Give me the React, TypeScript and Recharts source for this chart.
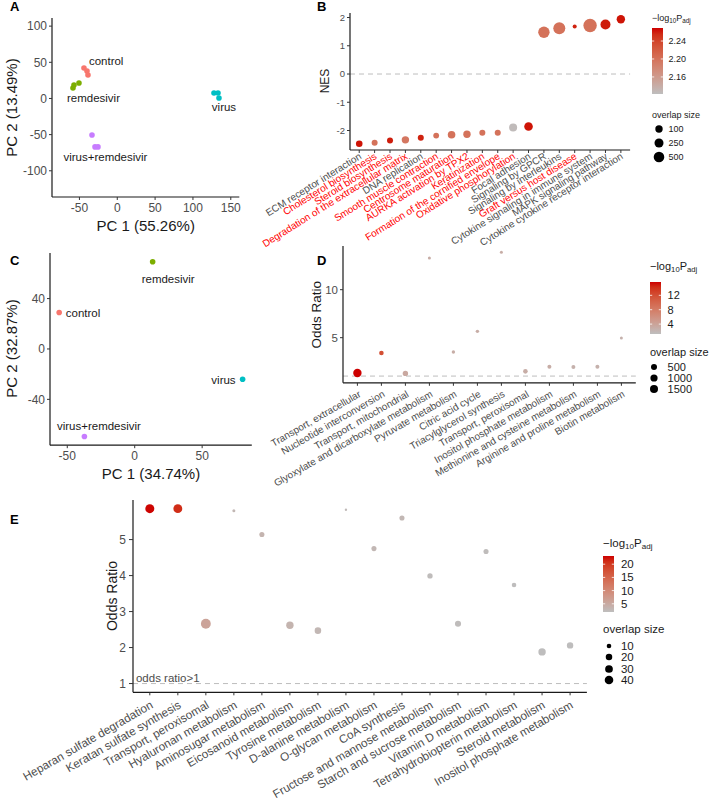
import React from "react";
import { ScatterChart, Scatter, XAxis, YAxis, ZAxis, ReferenceLine } from "recharts";

const FONT = '"Liberation Sans", Arial, sans-serif';
const INK = "#1a1a1a";
const TICK = "#4D4D4D";
const RED_LABEL = "#FF0000";

// ---------- A: PCA of all samples
const pcaAControl = [{ x: -44, y: 42.1 }, { x: -40, y: 37.9 }, { x: -38.7, y: 32.4 }];
const pcaARemdesivir = [{ x: -58.5, y: 14.5 }, { x: -57.2, y: 18.6 }, { x: -50.6, y: 21.4 }];
const pcaAVirus = [{ x: 127.8, y: 7.5 }, { x: 133.1, y: 7.5 }, { x: 134.4, y: 0.6 }];
const pcaAVirusRem = [{ x: -33.4, y: -50.5 }, { x: -29.4, y: -67 }, { x: -25.5, y: -67 }];
const pcaALabels = [
  { x: -37.4, y: 51.8, text: "control" },
  { x: -66.4, y: 1.0, text: "remdesivir" },
  { x: 141, y: -12.2, text: "virus" },
  { x: -15.6, y: -81, text: "virus+remdesivir" },
];

// ---------- C: PCA of group means
const pcaCControl = [{ x: -56, y: 29 }];
const pcaCRemdesivir = [{ x: 13.3, y: 69.3 }];
const pcaCVirus = [{ x: 80, y: -24 }];
const pcaCVirusRem = [{ x: -37.3, y: -69.5 }];
const pcaCLabels = [
  { x: -51.1, y: 28.5, text: "control" },
  { x: 24.8, y: 55.8, text: "remdesivir" },
  { x: 74.8, y: -24.6, text: "virus" },
  { x: -26.5, y: -61.5, text: "virus+remdesivir" },
];

// ---------- B: GSEA
const gseaPathways = [
  "ECM receptor interaction",
  "Cholesterol biosynthesis",
  "Steroid biosynthesis",
  "Degradation of the extracellular matrix",
  "DNA replication",
  "Smooth muscle contraction",
  "Centrosome maturation",
  "AURKA activation by TPX2",
  "Keratinization",
  "Formation of the cornified envelope",
  "Oxidative phosphorylation",
  "Focal adhesion",
  "Signaling by GPCR",
  "Signaling by interleukins",
  "Graft versus host disease",
  "Cytokine signaling in immune system",
  "MAPK signaling pathway",
  "Cytokine cytokine receptor interaction",
];
const gseaHighlighted = [false, true, true, true, false, true, true, true, true, true, true, false, false, false, true, false, false, false];
const gseaNES = [-2.47, -2.43, -2.35, -2.33, -2.26, -2.18, -2.15, -2.13, -2.08, -2.08, -1.89, -1.86, 1.48, 1.62, 1.68, 1.72, 1.75, 1.94];
const gseaLogP = [2.265, 2.2, 2.262, 2.195, 2.26, 2.2, 2.2, 2.2, 2.2, 2.2, 2.125, 2.265, 2.2, 2.2, 2.26, 2.2, 2.262, 2.265];
const gseaOverlap = [57, 36, 36, 100, 36, 30, 114, 100, 36, 36, 144, 200, 688, 857, 3, 1363, 390, 180];

// ---------- D: metabolic enrichment (group means)
const dPathways = [
  "Transport, extracellular",
  "Nucleotide interconversion",
  "Transport, mitochondrial",
  "Glyoxylate and dicarboxylate metabolism",
  "Pyruvate metabolism",
  "Citric acid cycle",
  "Triacylglycerol synthesis",
  "Transport, peroxisomal",
  "Inositol phosphate metabolism",
  "Methionine and cysteine metabolism",
  "Arginine and proline metabolism",
  "Biotin metabolism",
];
const dOdds = [1.32, 3.4, 1.28, 13.3, 3.51, 5.66, 13.9, 1.49, 1.98, 1.95, 1.98, 4.97];
const dLogP = [15.7, 12, 3.5, 3, 3, 3, 3, 3, 3, 2.6, 2.6, 2.6];
const dOverlap = [1800, 188, 340, 45, 66, 66, 45, 188, 115, 115, 115, 45];

// ---------- E: metabolic enrichment
const ePathways = [
  "Heparan sulfate degradation",
  "Keratan sulfate synthesis",
  "Transport, peroxisomal",
  "Hyaluronan metabolism",
  "Aminosugar metabolism",
  "Eicosanoid metabolism",
  "Tyrosine metabolism",
  "D-alanine metabolism",
  "O-glycan metabolism",
  "CoA synthesis",
  "Fructose and mannose metabolism",
  "Starch and sucrose metabolism",
  "Vitamin D metabolism",
  "Tetrahydrobiopterin metabolism",
  "Steroid metabolism",
  "Inositol phosphate metabolism",
];
const eOdds = [5.86, 5.86, 2.66, 5.8, 5.14, 2.62, 2.47, 5.83, 4.75, 5.6, 3.99, 2.66, 4.67, 3.74, 1.88, 2.06];
const eLogP = [23, 21, 6, 3, 3.5, 3.5, 3, 2.5, 3, 3, 2.2, 2.2, 2.2, 2, 2, 2];
const eOverlap = [46, 44, 60, 6, 12, 27, 20, 5, 12, 12, 13, 17, 12, 10, 27, 19];

// ---------- colour scale (grey -> red3, interpolated in Lab like ggplot)
type Trip = [number, number, number];
const toLin = (c: number) => {
  const s = c / 255;
  return s <= 0.04045 ? s / 12.92 : Math.pow((s + 0.055) / 1.055, 2.4);
};
const toSrgb = (c: number) => {
  const v = c <= 0.0031308 ? 12.92 * c : 1.055 * Math.pow(c, 1 / 2.4) - 0.055;
  return Math.round(Math.min(1, Math.max(0, v)) * 255);
};
function rgbToLab([r, g, b]: Trip): Trip {
  const R = toLin(r), G = toLin(g), B = toLin(b);
  const x = (0.4124 * R + 0.3576 * G + 0.1805 * B) / 0.95047;
  const y = 0.2126 * R + 0.7152 * G + 0.0722 * B;
  const z = (0.0193 * R + 0.1192 * G + 0.9505 * B) / 1.08883;
  const f = (t: number) => (t > 0.008856 ? Math.cbrt(t) : 7.787 * t + 16 / 116);
  const fx = f(x), fy = f(y), fz = f(z);
  return [116 * fy - 16, 500 * (fx - fy), 200 * (fy - fz)];
}
function labToRgb([L, a, b]: Trip): string {
  const fy = (L + 16) / 116, fx = fy + a / 500, fz = fy - b / 200;
  const inv = (t: number) => (t * t * t > 0.008856 ? t * t * t : (t - 16 / 116) / 7.787);
  const x = inv(fx) * 0.95047, y = inv(fy), z = inv(fz) * 1.08883;
  const R = 3.2406 * x - 1.5372 * y - 0.4986 * z;
  const G = -0.9689 * x + 1.8758 * y + 0.0415 * z;
  const B = 0.0557 * x - 0.204 * y + 1.057 * z;
  return `rgb(${toSrgb(R)},${toSrgb(G)},${toSrgb(B)})`;
}
const LOW = rgbToLab([190, 190, 190]);
const HIGH = rgbToLab([205, 0, 0]);
const heat = (t: number) => {
  const c = Math.min(1, Math.max(0, t));
  return labToRgb([0, 1, 2].map((k) => LOW[k] + (HIGH[k] - LOW[k]) * c) as Trip);
};

// size scales (area, sqrt) shared by ZAxis and legends
const zB = { domain: [1, 1600], range: [10.24, 152.2] };
const zD = { domain: [25, 2500], range: [4.85, 65.6] };
const zE = { domain: [4, 60], range: [1.3, 76.6] };
const zRadius = (v: number, z: { domain: number[]; range: number[] }) => {
  const s0 = Math.sqrt(z.domain[0]), s1 = Math.sqrt(z.domain[1]);
  const area = z.range[0] + ((Math.sqrt(v) - s0) / (s1 - s0)) * (z.range[1] - z.range[0]);
  return Math.sqrt(Math.max(area, 0) / Math.PI);
};

const colB = { lo: 2.122, hi: 2.269 };
const colD = { lo: 1.25, hi: 15.7 };
const colE = { lo: 1.9, hi: 23.1 };

const gseaData = gseaPathways.map((_, i) => ({
  x: i + 1, y: gseaNES[i], size: gseaOverlap[i],
  fill: heat((gseaLogP[i] - colB.lo) / (colB.hi - colB.lo)),
}));
const dData = dPathways.map((_, i) => ({
  x: i + 1, y: dOdds[i], size: dOverlap[i],
  fill: heat((dLogP[i] - colD.lo) / (colD.hi - colD.lo)),
}));
const eData = ePathways.map((_, i) => ({
  x: i + 1, y: eOdds[i], size: eOverlap[i],
  fill: heat((eLogP[i] - colE.lo) / (colE.hi - colE.lo)),
}));

// ---------- layout
type Box = { x0: number; y0: number; x1: number; y1: number };
const boxA: Box = { x0: 52, y0: 18, x1: 239.3, y1: 197 };
const boxB: Box = { x0: 349.8, y0: 12.5, x1: 629.9, y1: 149.5 };
const boxC: Box = { x0: 50.2, y0: 252.8, x1: 252, y1: 445 };
const boxD: Box = { x0: 342.6, y0: 246.3, x1: 635.4, y1: 383.1 };
const boxE: Box = { x0: 132.9, y0: 499.7, x1: 586.8, y1: 692 };

const PCA_COLORS = ["#F8766D", "#7CAE00", "#00BFC4", "#C77CFF"];
const anchorA: Record<string, string> = { control: "start", remdesivir: "start", virus: "middle", "virus+remdesivir": "middle" };
const anchorC: Record<string, string> = { control: "start", remdesivir: "middle", virus: "end", "virus+remdesivir": "middle" };

const axisLine = { stroke: INK, strokeWidth: 1.2 };
const tickLine = { stroke: "#333333" };

const dot = (fill: string) => (p: any) => <circle cx={p.cx} cy={p.cy} r={2.8} fill={fill} />;
const sizedDot = (p: any) => <circle cx={p.cx} cy={p.cy} r={p.width / 2} fill={p.payload.fill} />;
const textShape = (anchors: Record<string, string>) => (p: any) => (
  <text x={p.cx} y={p.cy} textAnchor={anchors[p.payload.text]} dominantBaseline="central" fontSize={11.5} fill={INK}>
    {p.payload.text}
  </text>
);

function angledTick(labels: string[], o: { angle: number; size: number; dx: number; dy: number; colors?: string[] }) {
  return (p: any) => {
    const i = Math.round(p.payload.value) - 1;
    return (
      <text
        transform={`translate(${p.x + o.dx},${p.y + o.dy}) rotate(${-o.angle})`}
        textAnchor="end"
        dy="0.71em"
        fontSize={o.size}
        fill={o.colors ? o.colors[i] : TICK}
      >
        {labels[i]}
      </text>
    );
  };
}

function Frame({ box, yw, xh, children }: { box: Box; yw: number; xh: number; children: React.ReactNode }) {
  const w = box.x1 - box.x0 + yw;
  const h = box.y1 - box.y0 + xh;
  return (
    <div style={{ position: "absolute", left: box.x0 - yw, top: box.y0, width: w, height: h }}>
      <ScatterChart width={w} height={h} margin={{ top: 0, right: 0, bottom: 0, left: 0 }}>
        {children}
      </ScatterChart>
    </div>
  );
}

function PcaPanel({ box, xDomain, yDomain, xTicks, yTicks, groups, labels, anchors }: any) {
  return (
    <Frame box={box} yw={40} xh={22}>
      <XAxis type="number" dataKey="x" domain={xDomain} ticks={xTicks} interval={0} tickSize={3} tickMargin={3}
        axisLine={axisLine} tickLine={tickLine} tick={{ fill: TICK, fontSize: 12 }} height={22} />
      <YAxis type="number" dataKey="y" domain={yDomain} ticks={yTicks} interval={0} tickSize={3} tickMargin={2}
        axisLine={axisLine} tickLine={tickLine} tick={{ fill: TICK, fontSize: 12 }} width={40} />
      {groups.map((g: any[], i: number) => (
        <Scatter key={i} data={g} shape={dot(PCA_COLORS[i])} isAnimationActive={false} />
      ))}
      <Scatter data={labels} shape={textShape(anchors)} isAnimationActive={false} />
    </Frame>
  );
}

function ColourLegend({ id, x, titleY, barTop, barBottom, lo, hi, breaks, fmt, fs, sizeTitleY, circleX, sizes, sizeYs, z }: any) {
  const stops = Array.from({ length: 11 }, (_, k) => k / 10);
  const yOf = (v: number) => barBottom - ((v - lo) / (hi - lo)) * (barBottom - barTop);
  const sub = fs * 0.7;
  return (
    <g fontSize={fs} fill={INK}>
      <defs>
        <linearGradient id={id} x1="0" y1="1" x2="0" y2="0">
          {stops.map((t) => (
            <stop key={t} offset={t} stopColor={heat(t)} />
          ))}
        </linearGradient>
      </defs>
      <text x={x} y={titleY} dominantBaseline="central">
        <tspan>−log</tspan>
        <tspan fontSize={sub} dy={fs * 0.3}>10</tspan>
        <tspan dy={-fs * 0.3}>P</tspan>
        <tspan fontSize={sub} dy={fs * 0.3}>adj</tspan>
      </text>
      <rect x={x} y={barTop} width={11} height={barBottom - barTop} fill={`url(#${id})`} />
      {breaks.map((b: number) => (
        <g key={b}>
          <line x1={x} x2={x + 2.2} y1={yOf(b)} y2={yOf(b)} stroke="#ffffff" strokeWidth={0.8} />
          <line x1={x + 8.8} x2={x + 11} y1={yOf(b)} y2={yOf(b)} stroke="#ffffff" strokeWidth={0.8} />
          <text x={x + 11 + fs * 0.6} y={yOf(b)} dominantBaseline="central">{fmt(b)}</text>
        </g>
      ))}
      <text x={x} y={sizeTitleY} dominantBaseline="central">overlap size</text>
      {sizes.map((s: number, k: number) => (
        <g key={s}>
          <circle cx={circleX} cy={sizeYs[k]} r={zRadius(s, z)} fill="#000000" />
          <text x={x + 11 + fs * 0.6} y={sizeYs[k]} dominantBaseline="central">{s}</text>
        </g>
      ))}
    </g>
  );
}

export default function App() {
  const idx = (arr: string[]) => arr.map((_, i) => i + 1);
  return (
    <div style={{ position: "absolute", left: 0, top: 0, width: 712, height: 801, background: "#ffffff", fontFamily: FONT, overflow: "hidden" }}>
      <style>{`.recharts-surface{overflow:visible}.recharts-wrapper{overflow:visible}`}</style>

      <PcaPanel box={boxA} xDomain={[-86.25, 161.25]} yDomain={[-136.25, 111.25]} xTicks={[-50, 0, 50, 100, 150]}
        yTicks={[-100, -50, 0, 50, 100]} groups={[pcaAControl, pcaARemdesivir, pcaAVirus, pcaAVirusRem]} labels={pcaALabels} anchors={anchorA} />

      <PcaPanel box={boxC} xDomain={[-62.8, 86.8]} yDomain={[-76.4, 76.2]} xTicks={[-50, 0, 50]}
        yTicks={[-40, 0, 40]} groups={[pcaCControl, pcaCRemdesivir, pcaCVirus, pcaCVirusRem]} labels={pcaCLabels} anchors={anchorC} />

      <Frame box={boxB} yw={30} xh={110}>
        <XAxis type="number" dataKey="x" domain={[0.4, 18.6]} ticks={idx(gseaPathways)} interval={0} tickSize={3} tickMargin={0}
          axisLine={axisLine} tickLine={tickLine} height={110}
          tick={angledTick(gseaPathways, { angle: 32, size: 10, dx: -0.9, dy: -1, colors: gseaHighlighted.map((h) => (h ? RED_LABEL : TICK)) })} />
        <YAxis type="number" dataKey="y" domain={[-2.69, 2.16]} ticks={[-2, -1, 0, 1, 2]} interval={0} tickSize={3} tickMargin={2}
          axisLine={axisLine} tickLine={tickLine} tick={{ fill: TICK, fontSize: 9.5 }} width={30} />
        <ZAxis type="number" dataKey="size" scale="sqrt" domain={zB.domain} range={zB.range} />
        <ReferenceLine y={0} stroke="#BDBDBD" strokeDasharray="5 4" strokeWidth={1} />
        <Scatter data={gseaData} shape={sizedDot} isAnimationActive={false} />
      </Frame>

      <Frame box={boxD} yw={30} xh={100}>
        <XAxis type="number" dataKey="x" domain={[0.4, 12.6]} ticks={idx(dPathways)} interval={0} tickSize={3} tickMargin={0}
          axisLine={axisLine} tickLine={tickLine} height={100}
          tick={angledTick(dPathways, { angle: 30, size: 10, dx: 0.6, dy: 4.1 })} />
        <YAxis type="number" dataKey="y" domain={[0.3, 14.55]} ticks={[5, 10]} interval={0} tickSize={3} tickMargin={2}
          axisLine={axisLine} tickLine={tickLine} tick={{ fill: TICK, fontSize: 11.5 }} width={30} />
        <ZAxis type="number" dataKey="size" scale="sqrt" domain={zD.domain} range={zD.range} />
        <ReferenceLine y={1} stroke="#BDBDBD" strokeDasharray="5 4" strokeWidth={1} />
        <Scatter data={dData} shape={sizedDot} isAnimationActive={false} />
      </Frame>

      <Frame box={boxE} yw={30} xh={100}>
        <XAxis type="number" dataKey="x" domain={[0.4, 16.6]} ticks={idx(ePathways)} interval={0} tickSize={3} tickMargin={0}
          axisLine={axisLine} tickLine={tickLine} height={100}
          tick={angledTick(ePathways, { angle: 30, size: 11.7, dx: -0.2, dy: 4.8 })} />
        <YAxis type="number" dataKey="y" domain={[0.757, 6.1]} ticks={[1, 2, 3, 4, 5]} interval={0} tickSize={4} tickMargin={3}
          axisLine={axisLine} tickLine={tickLine} tick={{ fill: TICK, fontSize: 12 }} width={30} />
        <ZAxis type="number" dataKey="size" scale="sqrt" domain={zE.domain} range={zE.range} />
        <ReferenceLine y={1} stroke="#BDBDBD" strokeDasharray="5 4" strokeWidth={1}
          label={(p: any) => (
            <text x={p.viewBox.x + 3} y={p.viewBox.y - 6} dominantBaseline="central" fontSize={11.5} fill={TICK}>odds ratio&gt;1</text>
          )} />
        <Scatter data={eData} shape={sizedDot} isAnimationActive={false} />
      </Frame>

      <svg width={712} height={801} style={{ position: "absolute", left: 0, top: 0, pointerEvents: "none", fontFamily: FONT }}>
        <g fontSize={13} fontWeight="bold" fill="#000000">
          <text x={10} y={11}>A</text>
          <text x={317} y={11}>B</text>
          <text x={10} y={265}>C</text>
          <text x={317} y={265}>D</text>
          <text x={10} y={524}>E</text>
        </g>
        <g fill={INK} textAnchor="middle" dominantBaseline="central">
          <text fontSize={15} transform="translate(11.5,107.5) rotate(-90)">PC 2 (13.49%)</text>
          <text fontSize={15} x={145.7} y={225}>PC 1 (55.26%)</text>
          <text fontSize={15} transform="translate(11.5,348.5) rotate(-90)">PC 2 (32.87%)</text>
          <text fontSize={15} x={151} y={473}>PC 1 (34.74%)</text>
          <text fontSize={12} transform="translate(325,81) rotate(-90)">NES</text>
          <text fontSize={13.5} transform="translate(316.7,314.7) rotate(-90)">Odds Ratio</text>
          <text fontSize={14} transform="translate(111.5,596) rotate(-90)">Odds Ratio</text>
        </g>
        <ColourLegend id="gB" x={652} titleY={17.5} barTop={28} barBottom={94} lo={colB.lo} hi={colB.hi}
          breaks={[2.16, 2.2, 2.24]} fmt={(v: number) => v.toFixed(2)} fs={9}
          sizeTitleY={114.5} circleX={659} sizes={[100, 250, 500]} sizeYs={[129, 143, 157]} z={zB} />
        <ColourLegend id="gD" x={650} titleY={266} barTop={282} barBottom={334} lo={colD.lo} hi={colD.hi}
          breaks={[4, 8, 12]} fmt={(v: number) => String(v)} fs={11}
          sizeTitleY={352} circleX={654} sizes={[500, 1000, 1500]} sizeYs={[367, 378, 389]} z={zD} />
        <ColourLegend id="gE" x={603} titleY={543} barTop={556} barBottom={612} lo={colE.lo} hi={colE.hi}
          breaks={[5, 10, 15, 20]} fmt={(v: number) => String(v)} fs={11.5}
          sizeTitleY={629} circleX={609} sizes={[10, 20, 30, 40]} sizeYs={[646, 657, 669, 680]} z={zE} />
      </svg>
    </div>
  );
}
